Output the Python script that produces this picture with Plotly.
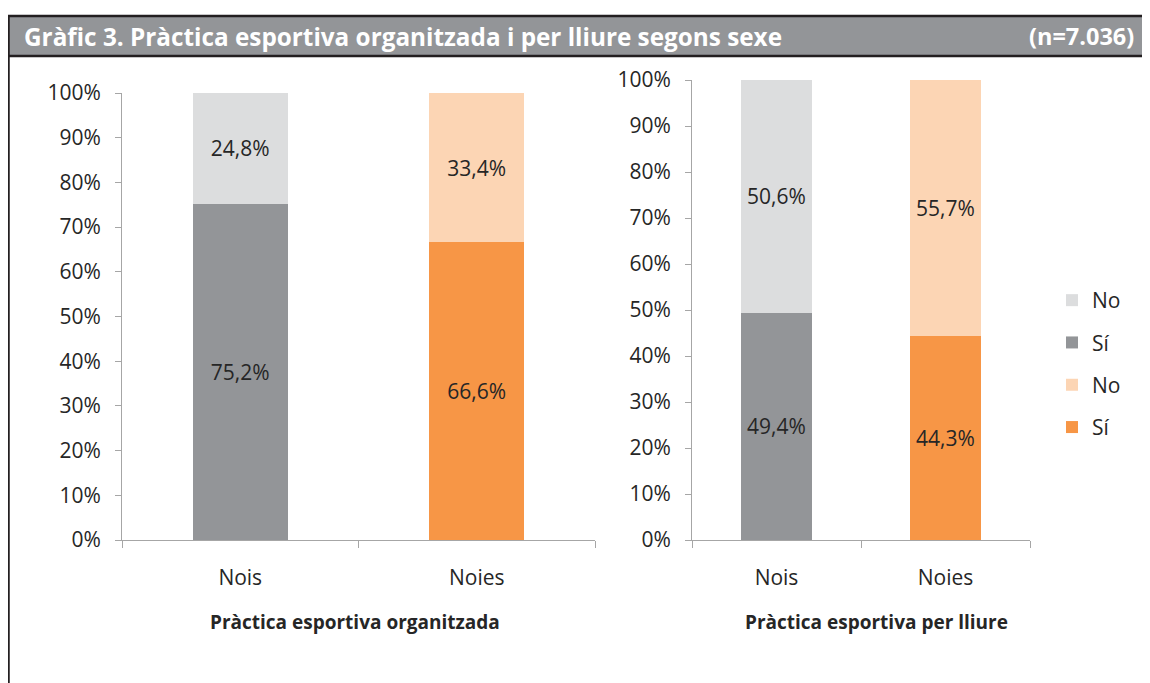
import plotly.graph_objects as go

W, H = 1150, 683
OFF = 8  # page body offset applied by the browser

categories = ["Nois", "Noies"]
org_si = [75.2, 66.6]
org_no = [24.8, 33.4]
lli_si = [49.4, 44.3]
lli_no = [50.6, 55.7]
y_ticks = list(range(0, 101, 10))
y_tick_labels = [f"{v}%" for v in y_ticks]
legend_labels = {"si": "Sí", "no": "No"}
title_text = "Gràfic 3. Pràctica esportiva organitzada i per lliure segons sexe"
n_text = "(n=7.036)"
axis_titles = ["Pràctica esportiva organitzada", "Pràctica esportiva per lliure"]

GRAY_SI, GRAY_NO = "#939598", "#DCDDDE"
OR_SI, OR_NO = "#F79646", "#FCD5B4"
FONT = "Open Sans"
TXT = "#262626"
AX = "#A6A6A6"
BORDER = "#231F20"


def fx(x):
    return (x - OFF) / W


def fy(y):
    return 1 - (y - OFF) / H


def lab(v):
    return f"{v:.1f}".replace(".", ",") + "%"


fig = go.Figure()

panels = [("x", "y", org_si, org_no, False, 0.40), ("x2", "y2", lli_si, lli_no, True, 0.42)]
for xa, ya, si, no, show, bw in panels:
    for idx, (c_si, c_no) in enumerate([(GRAY_SI, GRAY_NO), (OR_SI, OR_NO)]):
        cat = categories[idx]
        fig.add_bar(
            x=[cat], y=[si[idx]], xaxis=xa, yaxis=ya, width=bw,
            marker=dict(color=c_si, line=dict(width=0)),
            name=legend_labels["si"], showlegend=show,
            legendgroup=f"g{idx}si", legendrank=idx * 2 + 2,
            text=[lab(si[idx])], textposition="inside", insidetextanchor="middle",
            textfont=dict(family=FONT, size=21, color=TXT), constraintext="none",
            hoverinfo="skip",
        )
        fig.add_bar(
            x=[cat], y=[no[idx]], xaxis=xa, yaxis=ya, width=bw,
            marker=dict(color=c_no, line=dict(width=0)),
            name=legend_labels["no"], showlegend=show,
            legendgroup=f"g{idx}no", legendrank=idx * 2 + 1,
            text=[lab(no[idx])], textposition="inside", insidetextanchor="middle",
            textfont=dict(family=FONT, size=21, color=TXT), constraintext="none",
            hoverinfo="skip",
        )

xcommon = dict(
    type="category", categoryorder="array", categoryarray=categories,
    range=[-0.5, 1.5], showline=True, linecolor=AX, linewidth=1,
    ticks="outside", tickson="boundaries", ticklen=7, tickcolor=AX,
    tickfont=dict(family=FONT, size=21, color=TXT), showgrid=False,
    ticklabelstandoff=19, zeroline=False, automargin=False,
)
ycommon = dict(
    range=[0, 100], tickvals=y_ticks, ticktext=y_tick_labels,
    showline=True, linecolor=AX, linewidth=1, ticks="outside", ticklen=6,
    tickcolor=AX, tickfont=dict(family=FONT, size=21, color=TXT),
    showgrid=False, zeroline=False, ticklabelstandoff=10, automargin=False,
)

fig.update_layout(
    template="none",
    width=W, height=H, margin=dict(l=0, r=0, t=0, b=0, pad=0), autosize=False,
    paper_bgcolor="white", plot_bgcolor="white", barmode="stack",
    font=dict(family=FONT, color=TXT),
    xaxis=dict(domain=[fx(122), fx(595)], anchor="y", **xcommon),
    yaxis=dict(domain=[fy(540), fy(93)], anchor="x", **ycommon),
    xaxis2=dict(domain=[fx(692), fx(1030)], anchor="y2", **xcommon),
    yaxis2=dict(domain=[fy(540), fy(80)], anchor="x2", **ycommon),
    legend=dict(
        x=fx(1052), y=fy(280), xanchor="left", yanchor="top",
        traceorder="grouped", tracegroupgap=12,
        font=dict(family=FONT, size=21, color=TXT), bgcolor="rgba(0,0,0,0)",
    ),
    showlegend=True,
    shapes=[
        dict(type="rect", xref="paper", yref="paper", x0=fx(8.5), x1=fx(1170), y0=fy(56), y1=fy(16),
             fillcolor="#939598", line=dict(width=0), layer="below"),
        dict(type="line", xref="paper", yref="paper", x0=fx(7.5), x1=fx(1170), y0=fy(16), y1=fy(16),
             line=dict(color=BORDER, width=2.5)),
        dict(type="line", xref="paper", yref="paper", x0=fx(7.5), x1=fx(1170), y0=fy(56), y1=fy(56),
             line=dict(color=BORDER, width=2.5)),
        dict(type="line", xref="paper", yref="paper", x0=fx(8.5), x1=fx(8.5), y0=fy(15), y1=fy(700),
             line=dict(color=BORDER, width=2.5)),
    ],
    annotations=[
        dict(text=f"<b>{title_text}</b>", x=fx(22), y=fy(36), xref="paper", yref="paper",
             xanchor="left", yanchor="middle", showarrow=False,
             font=dict(family=FONT, size=24.3, color="white")),
        dict(text=f"<b>{n_text}</b>", x=fx(1136), y=fy(36), xref="paper", yref="paper",
             xanchor="right", yanchor="middle", showarrow=False,
             font=dict(family=FONT, size=23.5, color="white")),
        dict(text=f"<b>{axis_titles[0]}</b>", x=fx(355), y=fy(622), xref="paper", yref="paper",
             xanchor="center", yanchor="middle", showarrow=False,
             font=dict(family=FONT, size=19, color=TXT)),
        dict(text=f"<b>{axis_titles[1]}</b>", x=fx(876), y=fy(622), xref="paper", yref="paper",
             xanchor="center", yanchor="middle", showarrow=False,
             font=dict(family=FONT, size=19, color=TXT)),
    ],
)

fig.write_html("out.html")
